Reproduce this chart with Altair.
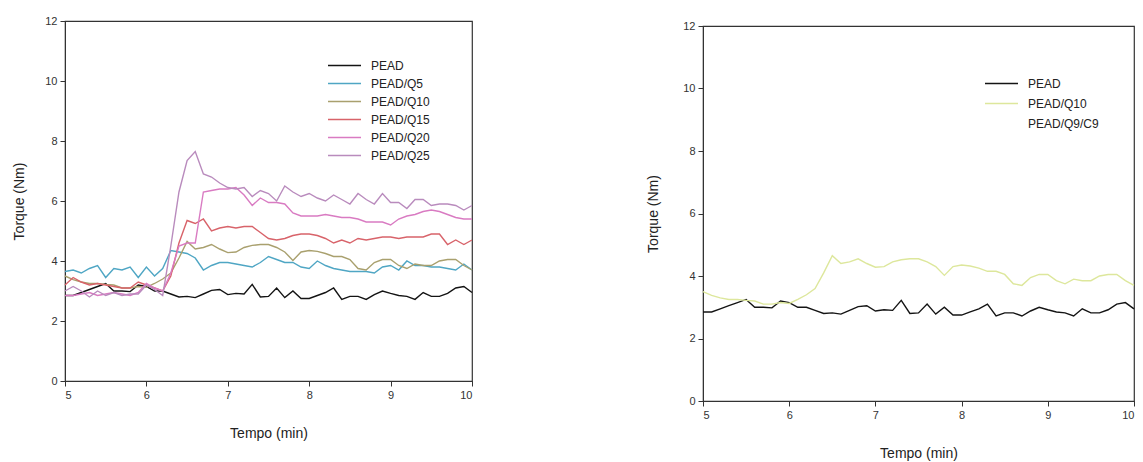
import altair as alt
import pandas as pd

tempo = [5.0, 5.1, 5.2, 5.3, 5.4, 5.5, 5.6, 5.7, 5.8, 5.9,
         6.0, 6.1, 6.2, 6.3, 6.4, 6.5, 6.6, 6.7, 6.8, 6.9,
         7.0, 7.1, 7.2, 7.3, 7.4, 7.5, 7.6, 7.7, 7.8, 7.9,
         8.0, 8.1, 8.2, 8.3, 8.4, 8.5, 8.6, 8.7, 8.8, 8.9,
         9.0, 9.1, 9.2, 9.3, 9.4, 9.5, 9.6, 9.7, 9.8, 9.9, 10.0]

pead = [2.85, 2.85, 2.95, 3.05, 3.15, 3.25, 3.0, 3.0, 2.98, 3.2,
        3.15, 3.0, 3.0, 2.9, 2.8, 2.82, 2.78, 2.9, 3.02, 3.05,
        2.88, 2.92, 2.9, 3.22, 2.8, 2.82, 3.1, 2.78, 3.0, 2.75,
        2.75, 2.85, 2.95, 3.1, 2.72, 2.82, 2.82, 2.72, 2.88, 3.0,
        2.92, 2.85, 2.82, 2.72, 2.95, 2.82, 2.82, 2.92, 3.1, 3.15, 2.95]

q5 = [3.65, 3.7, 3.6, 3.75, 3.85, 3.45, 3.75, 3.7, 3.8, 3.45,
      3.8, 3.5, 3.75, 4.35, 4.3, 4.25, 4.1, 3.7, 3.85, 3.95,
      3.95, 3.9, 3.85, 3.8, 3.95, 4.15, 4.05, 3.95, 3.95, 3.8,
      3.75, 4.0, 3.85, 3.75, 3.7, 3.65, 3.65, 3.65, 3.6, 3.8,
      3.85, 3.7, 4.0, 3.85, 3.85, 3.8, 3.8, 3.75, 3.7, 3.9, 3.7]

q10 = [3.5, 3.38, 3.3, 3.25, 3.25, 3.22, 3.2, 3.1, 3.1, 3.15,
       3.12, 3.25, 3.4, 3.6, 4.1, 4.65, 4.4, 4.45, 4.55, 4.4,
       4.28, 4.3, 4.45, 4.52, 4.55, 4.55, 4.45, 4.3, 4.02, 4.3,
       4.35, 4.32, 4.25, 4.15, 4.15, 4.05, 3.75, 3.7, 3.95, 4.05,
       4.05, 3.85, 3.75, 3.9, 3.85, 3.85, 4.0, 4.05, 4.05, 3.85, 3.7]

q15 = [3.2, 3.45, 3.3, 3.2, 3.25, 3.2, 3.15, 3.1, 3.1, 3.3,
       3.2, 3.1, 3.0, 3.5, 4.6, 5.35, 5.25, 5.4, 5.0, 5.1,
       5.15, 5.1, 5.15, 5.15, 4.95, 4.75, 4.7, 4.75, 4.85, 4.9,
       4.9, 4.85, 4.75, 4.6, 4.7, 4.6, 4.75, 4.7, 4.75, 4.8,
       4.8, 4.75, 4.8, 4.8, 4.8, 4.9, 4.9, 4.55, 4.7, 4.55, 4.7]

q20 = [2.85, 2.85, 2.9, 2.95, 2.85, 2.9, 2.95, 2.9, 2.85, 2.95,
       3.25, 3.1, 3.0, 3.6, 4.5, 4.6, 4.6, 6.3, 6.35, 6.4,
       6.4, 6.45, 6.2, 5.85, 6.1, 5.95, 5.95, 5.9, 5.6, 5.5,
       5.5, 5.5, 5.55, 5.5, 5.45, 5.45, 5.4, 5.3, 5.3, 5.3,
       5.2, 5.4, 5.5, 5.55, 5.65, 5.7, 5.65, 5.55, 5.45, 5.4, 5.4]

q25 = [3.0, 3.15, 3.0, 2.8, 3.0, 2.85, 2.95, 2.85, 2.9, 2.9,
       3.2, 3.05, 2.85, 4.5, 6.3, 7.35, 7.65, 6.9, 6.8, 6.6,
       6.45, 6.4, 6.45, 6.15, 6.35, 6.25, 6.0, 6.5, 6.3, 6.15,
       6.25, 6.1, 6.0, 6.2, 6.05, 5.9, 6.25, 6.05, 5.9, 6.25,
       5.95, 5.95, 5.75, 6.05, 6.05, 5.85, 5.9, 5.9, 5.85, 5.7, 5.85]

left_names = ["PEAD", "PEAD/Q5", "PEAD/Q10", "PEAD/Q15", "PEAD/Q20", "PEAD/Q25"]
left_colors = ["#141414", "#4fa6c4", "#a9a06e", "#d8636a", "#d97bc2", "#b98bbd"]
left_series = [pead, q5, q10, q15, q20, q25]

right_names = ["PEAD", "PEAD/Q10", "PEAD/Q9/C9"]
right_colors = ["#141414", "#dde79c", "#ffffff"]
right_series = [pead, q10]

FONT = "Liberation Sans"


def long_df(names, series):
    rows = []
    for n, s in zip(names, series):
        for t, v in zip(tempo, s):
            rows.append({"t": t, "v": v, "s": n})
    return pd.DataFrame(rows)


def panel(names, colors, series, w, h, lx, ly, rowpad, ytp, xtp):
    df = long_df(names, series)
    return alt.Chart(df).mark_line(strokeWidth=1.4).encode(
        x=alt.X("t:Q", scale=alt.Scale(domain=[5, 10], nice=False),
                axis=alt.Axis(values=[5, 6, 7, 8, 9, 10], title="Tempo (min)",
                              titlePadding=xtp, grid=False)),
        y=alt.Y("v:Q", scale=alt.Scale(domain=[0, 12], nice=False),
                axis=alt.Axis(values=[0, 2, 4, 6, 8, 10, 12], title="Torque (Nm)",
                              titlePadding=ytp, grid=False)),
        color=alt.Color("s:N", sort=names,
                        scale=alt.Scale(domain=names, range=colors),
                        legend=alt.Legend(title=None, orient="none", legendX=lx, legendY=ly,
                                          symbolType="M-3,0H3", symbolSize=121,
                                          symbolStrokeWidth=1.6, symbolFillColor="transparent",
                                          labelFontSize=12, padding=0,
                                          labelFont=FONT, labelColor="#222",
                                          rowPadding=rowpad, labelOffset=20)),
        detail="s:N",
    ).properties(width=w, height=h)


left = panel(left_names, left_colors, left_series, 407, 360, 273, 38, 5, 18, 26)
right = panel(right_names, right_colors, right_series, 431, 375, 292, 56, 7, 22, 26)

spacer = alt.Chart(pd.DataFrame({"a": [0]})).mark_point(opacity=0).encode(
    x=alt.value(0), y=alt.value(0)
).properties(width=431, height=5, view=alt.ViewBackground(stroke="transparent"))

right_col = alt.vconcat(spacer, right, spacing=0, bounds="flush")

chart = alt.hconcat(left, right_col, spacing=170).resolve_scale(
    color="independent"
).properties(
    padding={"left": 12, "top": 14, "right": 0, "bottom": 0}
).configure_view(stroke="#333", strokeWidth=1.2).configure_axis(
    grid=False, domainColor="#333", tickColor="#333", tickSize=5,
    labelFont=FONT, labelFontSize=11, labelColor="#333",
    titleFont=FONT, titleFontSize=14, titleFontWeight="normal", titleColor="#222",
    labelPadding=3,
)

chart.save("out.html", embed_options={"renderer": "svg", "actions": False})
